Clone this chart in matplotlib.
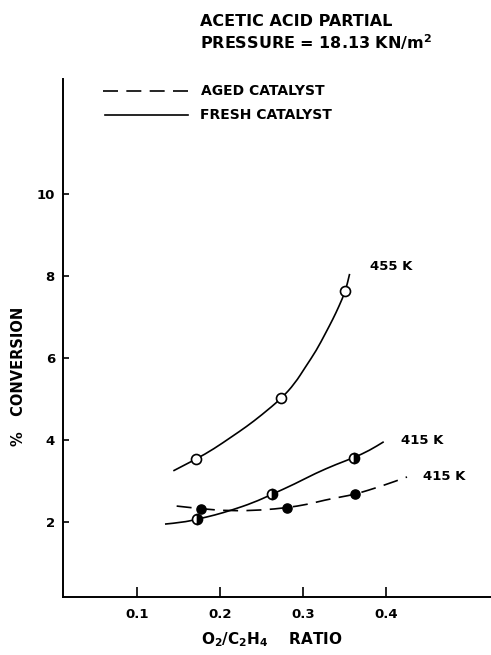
import matplotlib
matplotlib.use("Agg")
import matplotlib.pyplot as plt
from matplotlib.path import Path
from matplotlib.patches import PathPatch

# ---- data ----
# markers
x_455_fresh = [0.171, 0.274, 0.351]
y_455_fresh = [3.52, 5.01, 7.63]
x_415_fresh = [0.173, 0.263, 0.361]
y_415_fresh = [2.06, 2.67, 3.56]
x_415_aged = [0.177, 0.281, 0.363]
y_415_aged = [2.31, 2.34, 2.67]

# drawn curves
cx_455_fresh = [0.144, 0.171, 0.193, 0.214, 0.232, 0.250, 0.274, 0.290, 0.303, 0.316, 0.327, 0.336, 0.343, 0.351, 0.356]
cy_455_fresh = [3.24, 3.52, 3.78, 4.07, 4.32, 4.60, 5.01, 5.37, 5.78, 6.18, 6.60, 6.95, 7.25, 7.63, 8.05]
cx_415_fresh = [0.134, 0.155, 0.173, 0.194, 0.214, 0.240, 0.263, 0.290, 0.315, 0.340, 0.361, 0.380, 0.397]
cy_415_fresh = [1.94, 1.98, 2.06, 2.16, 2.28, 2.46, 2.67, 2.92, 3.18, 3.40, 3.56, 3.74, 3.95]
cx_415_aged = [0.148, 0.177, 0.214, 0.250, 0.281, 0.305, 0.327, 0.345, 0.363, 0.395, 0.425]
cy_415_aged = [2.38, 2.31, 2.26, 2.28, 2.34, 2.42, 2.53, 2.60, 2.67, 2.87, 3.09]

x_ticks = [0.1, 0.2, 0.3, 0.4]
x_tick_labels = ["0.1", "0.2", "0.3", "0.4"]
y_ticks = [2, 4, 6, 8, 10]
y_tick_labels = ["2", "4", "6", "8", "10"]

legend_labels = ["AGED CATALYST", "FRESH CATALYST"]
curve_labels = ["455 K", "415 K", "415 K"]
title_lines = ["ACETIC ACID PARTIAL", "PRESSURE = 18.13 KN/m$^{\\mathregular{2}}$"]
x_label = r"O$_\mathregular{2}$/C$_\mathregular{2}$H$_\mathregular{4}$    RATIO"
y_label = "%   CONVERSION"

plt.rcParams['font.family'] = ['DejaVu Sans']
plt.rcParams['font.weight'] = 'bold'

W, H = 491, 655
fig = plt.figure(figsize=(W / 100, H / 100), dpi=100)
ax = fig.add_axes([63.3 / W, (H - 597) / H, (W - 63.3) / W, (597 - 79) / H])

lw = 1.2
dash = (0, (9, 5))


def smooth_curve(ax, xs, ys, **kw):
    """Draw a smooth quadratic-Bezier path through the read curve points."""
    verts = [(xs[0], ys[0])]
    codes = [Path.MOVETO]
    for i in range(1, len(xs) - 1):
        mx = (xs[i] + xs[i + 1]) / 2
        my = (ys[i] + ys[i + 1]) / 2
        verts += [(xs[i], ys[i]), (mx, my)]
        codes += [Path.CURVE3, Path.CURVE3]
    verts.append((xs[-1], ys[-1]))
    codes.append(Path.LINETO)
    patch = PathPatch(Path(verts, codes), facecolor='none', edgecolor='black', **kw)
    ax.add_patch(patch)


smooth_curve(ax, cx_455_fresh, cy_455_fresh, lw=lw, zorder=2)
smooth_curve(ax, cx_415_fresh, cy_415_fresh, lw=lw, zorder=2)
smooth_curve(ax, cx_415_aged, cy_415_aged, lw=lw, linestyle=dash, zorder=2)

ax.plot(x_455_fresh, y_455_fresh, linestyle='none', marker='o', ms=7.2,
        mfc='white', mec='black', mew=1.2, zorder=3)
ax.plot(x_415_fresh, y_415_fresh, linestyle='none', marker='o', ms=7.2,
        fillstyle='right', mfc='black', mfcalt='white', mec='black', mew=1.2, zorder=3)
ax.plot(x_415_aged, y_415_aged, linestyle='none', marker='o', ms=6.6,
        mfc='black', mec='black', mew=1.0, zorder=3)

ax.set_xlim(0.0117, 0.526)
ax.set_ylim(0.159, 12.81)

for s in ['top', 'right']:
    ax.spines[s].set_visible(False)
for s in ['left', 'bottom']:
    ax.spines[s].set_linewidth(1.4)

ax.set_xticks(x_ticks)
ax.set_xticklabels(x_tick_labels, fontsize=9.5, fontweight='bold')
ax.set_yticks(y_ticks)
ax.set_yticklabels(y_tick_labels, fontsize=9.5, fontweight='bold')
ax.tick_params(axis='x', direction='in', length=7, width=1.2, pad=8)
ax.tick_params(axis='y', direction='in', length=4.5, width=1.2, pad=6)

# axis labels
fig.text(272 / W, 1 - 640 / H, x_label, fontsize=11, fontweight='bold',
         ha='center', va='center')
fig.text(19 / W, 1 - 376 / H, y_label, fontsize=10.5, fontweight='bold',
         ha='center', va='center', rotation=90)

# title
fig.text(200 / W, 1 - 21 / H, title_lines[0], fontsize=11.5, fontweight='bold',
         ha='left', va='center')
fig.text(200 / W, 1 - 42 / H, title_lines[1], fontsize=11.5, fontweight='bold',
         ha='left', va='center')

# legend (drawn manually)
fig.lines.append(plt.Line2D([103 / W, 188 / W], [1 - 91 / H, 1 - 91 / H],
                            transform=fig.transFigure, color='black', lw=lw, linestyle=dash))
fig.lines.append(plt.Line2D([105 / W, 188 / W], [1 - 115 / H, 1 - 115 / H],
                            transform=fig.transFigure, color='black', lw=lw))
fig.text(201 / W, 1 - 91 / H, legend_labels[0], fontsize=10, fontweight='bold', ha='left', va='center')
fig.text(200 / W, 1 - 115 / H, legend_labels[1], fontsize=10, fontweight='bold', ha='left', va='center')

# curve labels
fig.text(370 / W, 1 - 267 / H, curve_labels[0], fontsize=9.5, fontweight='bold', ha='left', va='center')
fig.text(401 / W, 1 - 441 / H, curve_labels[1], fontsize=9.5, fontweight='bold', ha='left', va='center')
fig.text(423 / W, 1 - 477 / H, curve_labels[2], fontsize=9.5, fontweight='bold', ha='left', va='center')

fig.savefig("out.png", dpi=100)
